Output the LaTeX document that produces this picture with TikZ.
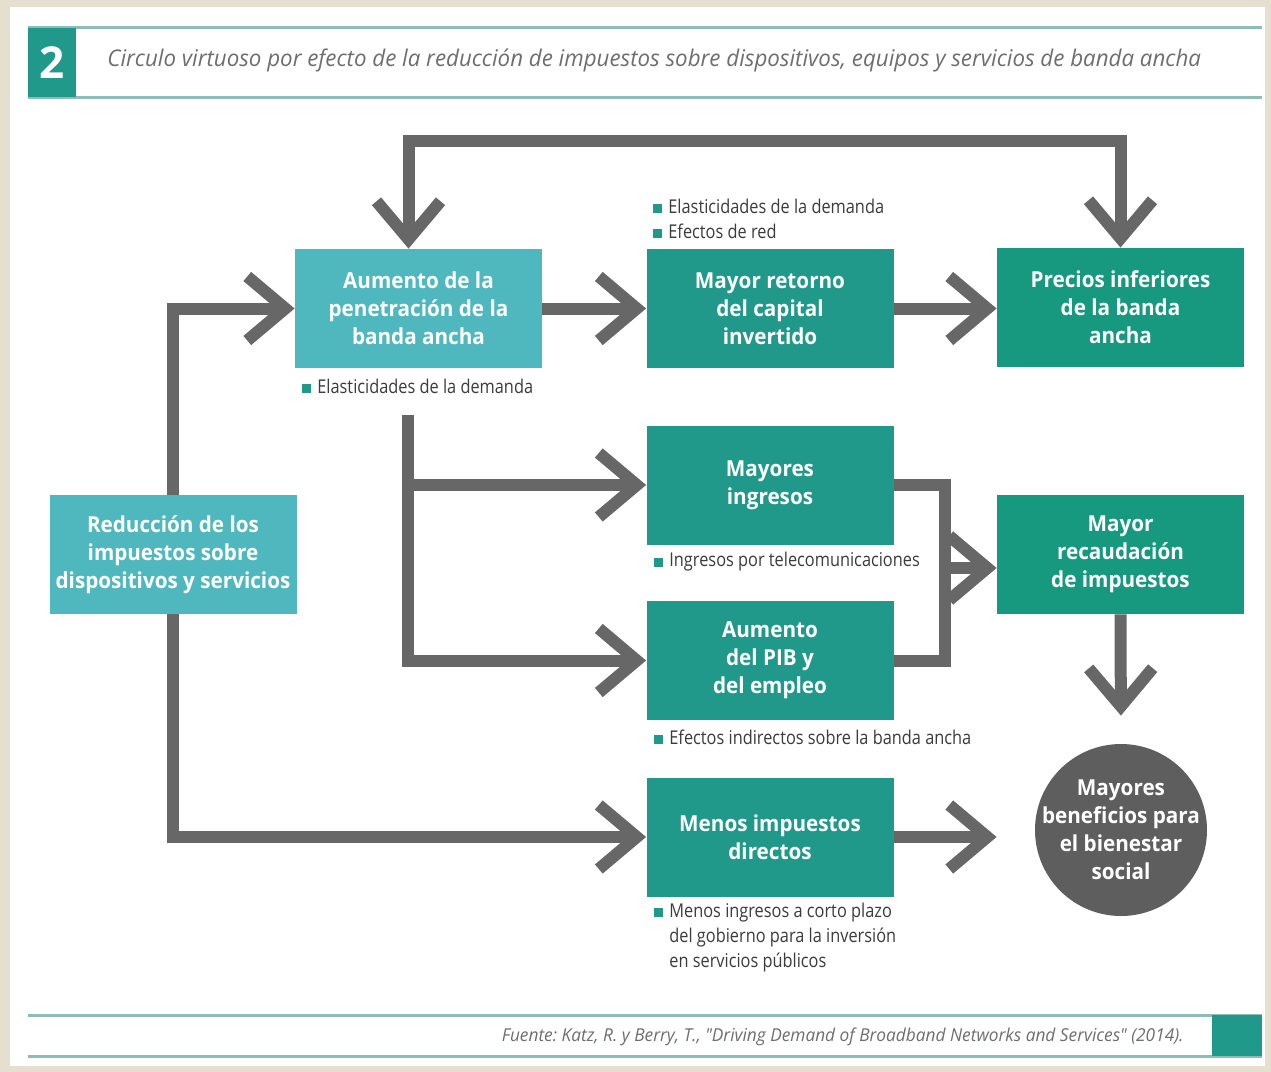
\documentclass[tikz,border=0pt]{standalone}
\usepackage{fontspec}
\setmainfont{Open Sans}
\newfontfamily\boxfont[FakeStretch=0.94]{Open Sans}
\newfontfamily\notefont[FakeStretch=0.86]{Open Sans}
\newfontfamily\headfont[FakeStretch=0.97]{Open Sans}
\usetikzlibrary{arrows.meta}
\frenchspacing
\definecolor{paper}{HTML}{E6DFD0}
\definecolor{lightteal}{HTML}{4FB8BE}
\definecolor{darkteal}{HTML}{20998A}
\definecolor{greenteal}{HTML}{17997F}
\definecolor{flowgray}{HTML}{676767}
\definecolor{circgray}{HTML}{5E5E5E}
\definecolor{rulecol}{HTML}{8DBDB8}
\definecolor{notegray}{HTML}{3C3C3C}
\definecolor{titlegray}{HTML}{6E6E6E}
\newcommand{\bul}{\textcolor{darkteal}{\rule{4.5pt}{4.5pt}}\hspace{3pt}}
\tikzstyle{boxbase}=[rectangle, minimum width=123.5pt, minimum height=59.5pt, inner sep=0pt, align=center, text=white, font=\boxfont\bfseries\fontsize{11}{14}\selectfont]
\tikzstyle{lightbox}=[boxbase, fill=lightteal]
\tikzstyle{darkbox}=[boxbase, fill=darkteal]
\tikzstyle{greenbox}=[boxbase, fill=greenteal]
\tikzstyle{note}=[anchor=west, inner sep=0pt, text=notegray, align=left, font=\notefont\fontsize{9.5}{12.5}\selectfont]
\tikzstyle{flow}=[draw=flowgray, line width=6pt]
\begin{document}
\begin{tikzpicture}[x=0.5pt, y=-0.5pt, >={Straight Barb[length=19pt,width=32pt,sharp]}]
                \useasboundingbox (0,0) rectangle (1271,1072);
                \fill[paper] (0,0) rectangle (1271,1072);
                \fill[white] (10,7) rectangle (1265,1066);
                % header and footer
                \draw[rulecol, line width=1.5pt] (28,27) -- (1262,27) (28,97) -- (1262,97);
                \draw[rulecol, line width=1.5pt] (28,1015) -- (1262,1015) (28,1056) -- (1262,1056);
                \node[fill=darkteal, minimum width=24pt, minimum height=34.5pt, inner sep=0pt, text=white, font=\bfseries\fontsize{22}{22}\selectfont] (num) at (52,62.5) {2};
                \node[anchor=west, inner sep=0pt, text=titlegray, font=\headfont\itshape\fontsize{11.5}{13}\selectfont] (title) at (107,60) {Circulo virtuoso por efecto de la reducción de impuestos sobre dispositivos, equipos y servicios de banda ancha};
                \fill[darkteal] (1212,1015) rectangle (1262,1056);
                \node[anchor=east, inner sep=0pt, text=titlegray, font=\headfont\itshape\fontsize{8.9}{11}\selectfont] (src) at (1184,1037) {Fuente: Katz, R. y Berry, T., "Driving Demand of Broadband Networks and Services" (2014).};
                % boxes
                \node[lightbox] (a) at (173,554.5) {Reducción de los\\impuestos sobre\\dispositivos y servicios};
                \node[lightbox] (b) at (418.5,308.5) {Aumento de la\\penetración de la\\banda ancha};
                \node[darkbox] (c) at (770,308.5) {Mayor retorno\\del capital\\invertido};
                \node[greenbox] (d) at (1120.5,307.5) {Precios inferiores\\de la banda\\ancha};
                \node[darkbox] (e) at (770,485) {Mayores\\ingresos};
                \node[darkbox] (f) at (770,660.5) {Aumento\\del PIB y\\del empleo};
                \node[greenbox] (g) at (1120.5,554.5) {Mayor\\recaudación\\de impuestos};
                \node[darkbox] (h) at (770,837) {Menos impuestos\\directos};
                \node[circle, fill=circgray, minimum size=86pt, inner sep=0pt,
                      label={[align=center, text=white, font=\boxfont\bfseries\fontsize{11}{14}\selectfont]center:Mayores\\beneficios para\\el bienestar\\social}] (i) at (1121,830) {};
                % notes
                \node[note] (nc) at (653,218.5) {\bul Elasticidades de la demanda\\\bul Efectos de red};
                \node[note] (nb) at (302,386) {\bul Elasticidades de la demanda};
                \node[note] (ne) at (654,562) {\bul Ingresos por telecomunicaciones};
                \node[note] (nf) at (654,737) {\bul Efectos indirectos sobre la banda ancha};
                \node[note] (nh) at (654,937.5) {\bul Menos ingresos a corto plazo\\\hphantom{\bul}del gobierno para la inversión\\\hphantom{\bul}en servicios públicos};
                % connectors
                \coordinate (split) at (408,415);
                \coordinate (m) at (945,568);
                \draw[flow,<->] ([xshift=-5pt]b.north) -- ++(0,-108) -| (d.north);
                \draw[flow,->] (a.north) |- (b.west);
                \draw[flow,->] (a.south) |- (h.west);
                \draw[flow,->] (b.east) -- (c.west);
                \draw[flow,->] (c.east) -- (c.east -| d.west);
                \draw[flow,->] (split) |- (e.west);
                \draw[flow,->] (split) |- (f.west);
                \draw[flow] (e.east) -| (m) |- (f.east);
                \draw[flow,->] (m) -- (m -| g.west);
                \draw[flow,->,shorten >=14pt] (g.south) -- (i.north);
                \draw[flow,->,shorten >=19pt] (h.east) -- (h.east -| i.west);
            \end{tikzpicture}
\end{document}
